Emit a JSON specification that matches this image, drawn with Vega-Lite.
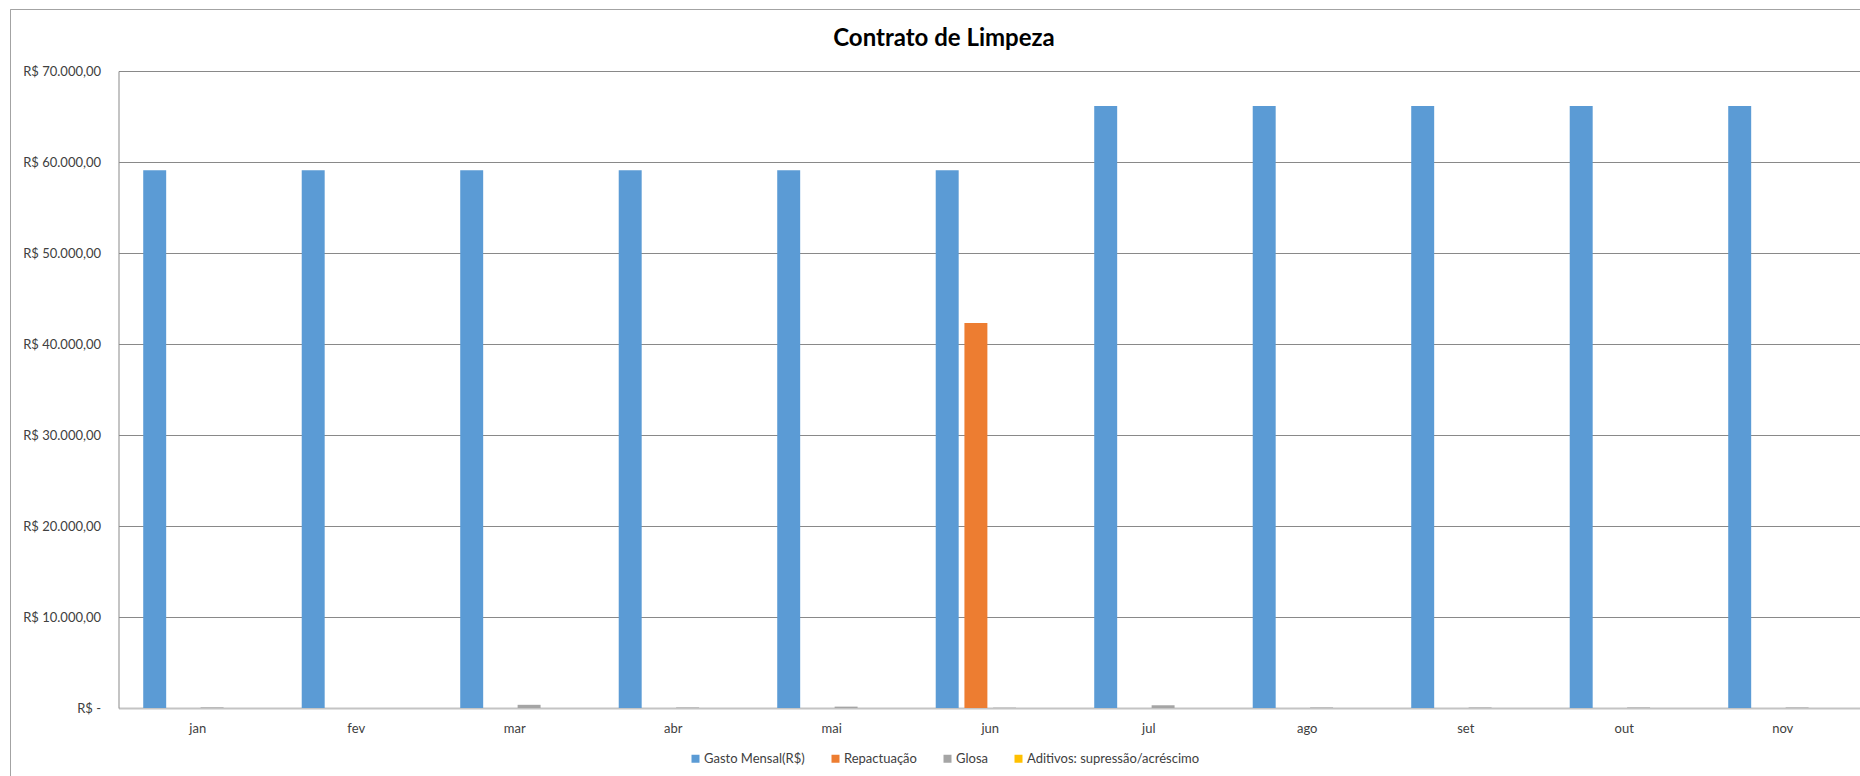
{
  "$schema": "https://vega.github.io/schema/vega-lite/v6.json",
  "autosize": "none",
  "width": 1850,
  "height": 767,
  "padding": {"left": 10, "top": 9, "right": 0, "bottom": 0},
  "background": "white",
  "title": {
    "text": "Contrato de Limpeza",
    "anchor": "middle",
    "frame": "group",
    "orient": "top",
    "baseline": "alphabetic",
    "offset": -61,
    "dx": 9,
    "font": "Lato",
    "fontSize": 24,
    "fontWeight": "bold",
    "color": "#000000"
  },
  "config": {
    "view": {
      "stroke": "#a3a3a3",
      "strokeWidth": 1,
      "strokeDash": [1850, 2617, 767]
    },
    "font": "Lato",
    "axis": {"labelFont": "Lato", "labelFontSize": 13, "labelColor": "#404040"},
    "legend": {"labelFont": "Lato", "labelFontSize": 13, "labelColor": "#404040"}
  },
  "data": {
    "values": [
      {"mes": "jan", "serie": "Gasto Mensal(R$)", "valor": 59100},
      {"mes": "fev", "serie": "Gasto Mensal(R$)", "valor": 59100},
      {"mes": "mar", "serie": "Gasto Mensal(R$)", "valor": 59100},
      {"mes": "abr", "serie": "Gasto Mensal(R$)", "valor": 59100},
      {"mes": "mai", "serie": "Gasto Mensal(R$)", "valor": 59100},
      {"mes": "jun", "serie": "Gasto Mensal(R$)", "valor": 59100},
      {"mes": "jul", "serie": "Gasto Mensal(R$)", "valor": 66160},
      {"mes": "ago", "serie": "Gasto Mensal(R$)", "valor": 66160},
      {"mes": "set", "serie": "Gasto Mensal(R$)", "valor": 66160},
      {"mes": "out", "serie": "Gasto Mensal(R$)", "valor": 66160},
      {"mes": "nov", "serie": "Gasto Mensal(R$)", "valor": 66160},
      {"mes": "jun", "serie": "Repactuação", "valor": 42300},
      {"mes": "jan", "serie": "Glosa", "valor": 70},
      {"mes": "fev", "serie": "Glosa", "valor": 0},
      {"mes": "mar", "serie": "Glosa", "valor": 350},
      {"mes": "abr", "serie": "Glosa", "valor": 60},
      {"mes": "mai", "serie": "Glosa", "valor": 150},
      {"mes": "jun", "serie": "Glosa", "valor": 40},
      {"mes": "jul", "serie": "Glosa", "valor": 300},
      {"mes": "ago", "serie": "Glosa", "valor": 60},
      {"mes": "set", "serie": "Glosa", "valor": 60},
      {"mes": "out", "serie": "Glosa", "valor": 60},
      {"mes": "nov", "serie": "Glosa", "valor": 60},
      {"mes": "jan", "serie": "Aditivos: supressão/acréscimo", "valor": 0}
    ]
  },
  "mark": {"type": "bar"},
  "encoding": {
    "x": {
      "field": "mes",
      "type": "nominal",
      "title": null,
      "scale": {
        "domain": ["jan", "fev", "mar", "abr", "mai", "jun", "jul", "ago", "set", "out", "nov"],
        "range": [108.5, 1852],
        "paddingInner": 0.312,
        "paddingOuter": 0.156
      },
      "axis": {
        "orient": "bottom",
        "offset": -68,
        "labelAngle": 0,
        "ticks": false,
        "tickSize": 0,
        "domainColor": "#c4c4c4",
        "domainWidth": 2,
        "labelBaseline": "alphabetic",
        "labelPadding": 24,
        "grid": false
      }
    },
    "xOffset": {
      "field": "serie",
      "type": "nominal",
      "scale": {
        "domain": ["Gasto Mensal(R$)", "Repactuação", "Glosa", "Aditivos: supressão/acréscimo"],
        "paddingInner": 0.2,
        "paddingOuter": 0
      }
    },
    "y": {
      "field": "valor",
      "type": "quantitative",
      "title": null,
      "scale": {"domain": [0, 70000], "range": [699, 62], "nice": false, "zero": true},
      "axis": {
        "orient": "left",
        "offset": -108.5,
        "values": [0, 10000, 20000, 30000, 40000, 50000, 60000, 70000],
        "ticks": false,
        "tickSize": 0,
        "labelPadding": 18,
        "labelBaseline": "middle",
        "domain": true,
        "domainColor": "#898989",
        "grid": true,
        "gridColor": "#898989",
        "gridWidth": 1,
        "labelExpr": "datum.value === 0 ? 'R$ -\u00a0\u00a0' : 'R$ ' + replace(replace(replace(format(datum.value, ',.2f'), ',', '_'), '.', ','), '_', '.')"
      }
    },
    "color": {
      "field": "serie",
      "type": "nominal",
      "scale": {
        "domain": ["Gasto Mensal(R$)", "Repactuação", "Glosa", "Aditivos: supressão/acréscimo"],
        "range": ["#5b9bd5", "#ed7d31", "#a5a5a5", "#ffc000"]
      },
      "legend": {
        "title": null,
        "orient": "none",
        "direction": "horizontal",
        "legendX": 679,
        "legendY": 743,
        "padding": 0,
        "symbolType": "square",
        "symbolSize": 64,
        "symbolStrokeWidth": 0,
        "symbolOpacity": 1,
        "labelOffset": 2,
        "labelLimit": 0,
        "columnPadding": 24
      }
    }
  }
}
